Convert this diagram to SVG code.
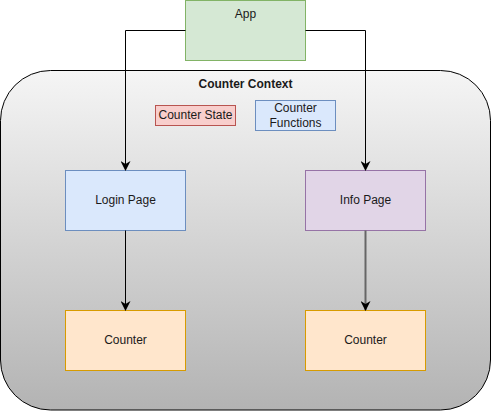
<svg xmlns="http://www.w3.org/2000/svg" width="491" height="411" viewBox="0 0 491 411">
<defs>
<linearGradient id="ctx" x1="0" y1="0" x2="0" y2="1">
<stop offset="0" stop-color="#f5f5f5"/>
<stop offset="1" stop-color="#b3b3b3"/>
</linearGradient>
<marker id="arr" viewBox="0 0 10 10" refX="9" refY="5" markerWidth="10" markerHeight="10" markerUnits="userSpaceOnUse" orient="auto">
<path d="M0,0 L10,5 L0,10 L3,5 Z" fill="#000"/>
</marker>
</defs>
<style>
text{font-family:"Liberation Sans",Arial,sans-serif;font-size:12px;fill:#1a1a1a;text-anchor:middle}
.b{font-weight:bold}
.edge{fill:none;stroke:#000;stroke-width:1}
</style>
<g id="counter-context">
<rect x="0.5" y="70.5" width="490" height="339.5" rx="50" ry="50" fill="url(#ctx)" stroke="#000"/>
<text class="b" x="245.5" y="88">Counter Context</text>
</g>
<g id="app">
<rect x="185.5" y="0.5" width="120" height="60" fill="#d5e8d4" stroke="#82b366"/>
<text x="245.5" y="18">App</text>
</g>
<g id="counter-state">
<rect x="155.5" y="105.5" width="80" height="20" fill="#f8cecc" stroke="#b85450"/>
<text x="195.5" y="119">Counter State</text>
</g>
<g id="counter-functions">
<rect x="255.5" y="100.5" width="80" height="30" fill="#dae8fc" stroke="#6c8ebf"/>
<text x="295.5" y="112">Counter</text>
<text x="295.5" y="127">Functions</text>
</g>
<g id="login-page">
<rect x="65.5" y="170.5" width="120" height="60" fill="#dae8fc" stroke="#6c8ebf"/>
<text x="125.5" y="203.5">Login Page</text>
</g>
<g id="info-page">
<rect x="305.5" y="170.5" width="120" height="60" fill="#e1d5e7" stroke="#9673a6"/>
<text x="365.5" y="203.5">Info Page</text>
</g>
<g id="counter-left">
<rect x="65.5" y="310.5" width="120" height="60" fill="#ffe6cc" stroke="#d79b00"/>
<text x="125.5" y="343.5">Counter</text>
</g>
<g id="counter-right">
<rect x="305.5" y="310.5" width="120" height="60" fill="#ffe6cc" stroke="#d79b00"/>
<text x="365.5" y="343.5">Counter</text>
</g>
<g id="connectors">
<path class="edge" d="M185.5,30.5 H125.5 V170" marker-end="url(#arr)"/>
<path class="edge" d="M305.5,30.5 H365.5 V170" marker-end="url(#arr)"/>
<path class="edge" d="M125.5,230.5 V310" marker-end="url(#arr)"/>
<path class="edge" d="M365.5,230.5 V310" style="stroke:#666;stroke-width:2" marker-end="url(#arr)"/>
</g>
</svg>
